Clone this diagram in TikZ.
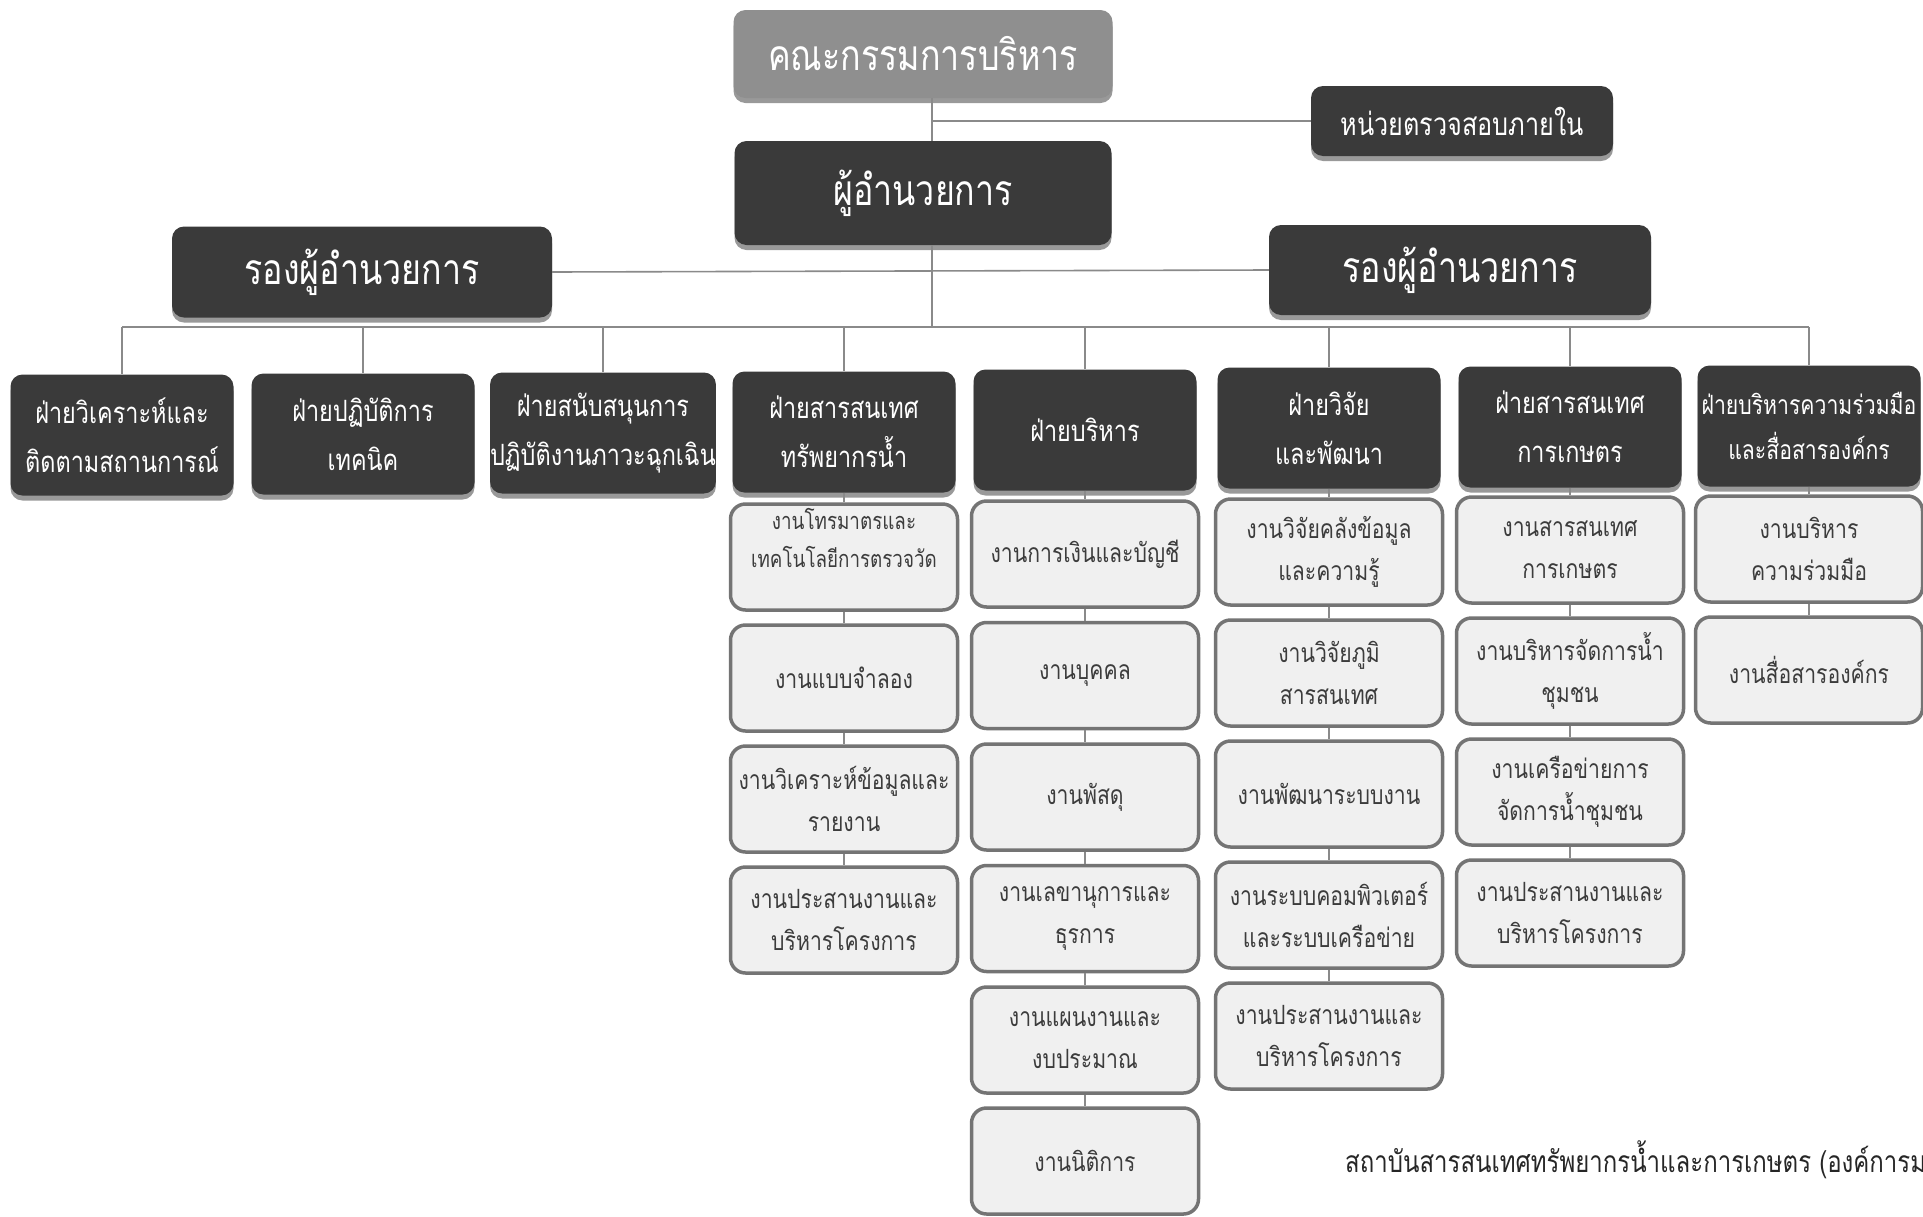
\documentclass[tikz,border=0pt]{standalone}
\usepackage{fontspec}
\setmainfont[Script=Thai,FakeStretch=0.8]{Loma}
\usetikzlibrary{shadows}
\definecolor{cDark}{HTML}{3A3A3A}
\definecolor{cBoard}{HTML}{8F8F8F}
\definecolor{cSubFill}{HTML}{F0F0F0}
\definecolor{cSubLine}{HTML}{747474}
\definecolor{cConn}{HTML}{8A8A8A}
\definecolor{cSubText}{HTML}{3C3C3C}
\newcommand\szTop{\fontsize{42.5}{50}\selectfont}
\newcommand\szAudit{\fontsize{31.5}{40}\selectfont}
\newcommand\szDiv{\fontsize{29.3}{49}\selectfont}
\newcommand\szDivS{\fontsize{26.5}{45}\selectfont}
\newcommand\szSub{\fontsize{26.5}{42}\selectfont}
\newcommand\szSubS{\fontsize{23.5}{38}\selectfont}
\newcommand\szFoot{\fontsize{30}{36}\selectfont}
\begin{document}
\begin{tikzpicture}[x=1pt,y=-1pt,
  shadowed/.style={drop shadow={shadow xshift=0pt,shadow yshift=-5pt,fill=black!40,opacity=1}},
  topbox/.style={rectangle,rounded corners=12pt,align=center,inner sep=0pt,shadowed,text=white},
  darkbox/.style={topbox,fill=cDark},
  boardbox/.style={topbox,fill=cBoard},
  divbox/.style={darkbox,minimum width=223pt,minimum height=121pt,font=\szDiv},
  subbox/.style={rectangle,rounded corners=15pt,align=center,inner sep=0pt,fill=cSubFill,draw=cSubLine,line width=3.5pt,minimum width=227pt,minimum height=106pt,font=\szSub,text=cSubText},
  conn/.style={draw=cConn,line width=1.6pt}
]
\fill[white] (0,0) rectangle (1923,1216);
\useasboundingbox (0,0) rectangle (1923,1216);

% top level
\node[boardbox,minimum width=379pt,minimum height=88pt,font=\szTop] (board) at (923,54) {คณะกรรมการบริหาร};
\node[darkbox,minimum width=302pt,minimum height=70pt,font=\szAudit] (audit) at (1462,121) {หน่วยตรวจสอบภายใน};
\node[darkbox,minimum width=377pt,minimum height=104pt,font=\szTop] (dir) at (923,193) {ผู้อำนวยการ};
\node[darkbox,minimum width=380pt,minimum height=91pt,font=\szTop] (ldep) at (362,272) {รองผู้อำนวยการ};
\node[darkbox,minimum width=382pt,minimum height=90pt,font=\szTop] (rdep) at (1460,270) {รองผู้อำนวยการ};

\coordinate (spineA) at ([xshift=9pt]board.south);
\coordinate (spineB) at ([xshift=9pt]dir.north);
\coordinate (spineC) at ([xshift=9pt]dir.south);
\coordinate (busL) at (122,327);
\coordinate (busR) at (1809,327);

% divisions
\node[divbox] (d1) at (122,435) {ฝ่ายวิเคราะห์และ\\ติดตามสถานการณ์};
\node[divbox] (d2) at (363,434) {ฝ่ายปฏิบัติการ\\เทคนิค};
\node[divbox] (d3) at (603,433) {ฝ่ายสนับสนุนการ\\ปฏิบัติงานภาวะฉุกเฉิน};
\node[divbox] (d4) at (844,432) {ฝ่ายสารสนเทศ\\ทรัพยากรน้ำ};
\node[divbox] (d5) at (1085,430) {ฝ่ายบริหาร};
\node[divbox] (d6) at (1329,428) {ฝ่ายวิจัย\\และพัฒนา};
\node[divbox] (d7) at (1570,427) {ฝ่ายสารสนเทศ\\การเกษตร};
\node[divbox,font=\szDivS] (d8) at (1809,426) {ฝ่ายบริหารความร่วมมือ\\และสื่อสารองค์กร};

% column 4
\node[subbox,font=\szSubS] (s41) at (844,557) {งานโทรมาตรและ\\เทคโนโลยีการตรวจวัด\\\phantom{ก}};
\node[subbox] (s42) at (844,678) {งานแบบจำลอง};
\node[subbox] (s43) at (844,799) {งานวิเคราะห์ข้อมูลและ\\รายงาน};
\node[subbox] (s44) at (844,920) {งานประสานงานและ\\บริหารโครงการ};
% column 5
\node[subbox] (s51) at (1085,554) {งานการเงินและบัญชี};
\node[subbox] (s52) at (1085,675.5) {งานบุคคล};
\node[subbox] (s53) at (1085,797) {งานพัสดุ};
\node[subbox] (s54) at (1085,918.5) {งานเลขานุการและ\\ธุรการ};
\node[subbox] (s55) at (1085,1040) {งานแผนงานและ\\งบประมาณ};
\node[subbox] (s56) at (1085,1161) {งานนิติการ};
% column 6
\node[subbox] (s61) at (1329,552) {งานวิจัยคลังข้อมูล\\และความรู้};
\node[subbox] (s62) at (1329,673) {งานวิจัยภูมิ\\สารสนเทศ};
\node[subbox] (s63) at (1329,794) {งานพัฒนาระบบงาน};
\node[subbox] (s64) at (1329,915) {งานระบบคอมพิวเตอร์\\และระบบเครือข่าย};
\node[subbox] (s65) at (1329,1036) {งานประสานงานและ\\บริหารโครงการ};
% column 7
\node[subbox] (s71) at (1570,550) {งานสารสนเทศ\\การเกษตร};
\node[subbox] (s72) at (1570,671) {งานบริหารจัดการน้ำ\\ชุมชน};
\node[subbox] (s73) at (1570,792) {งานเครือข่ายการ\\จัดการน้ำชุมชน};
\node[subbox] (s74) at (1570,913) {งานประสานงานและ\\บริหารโครงการ};
% column 8
\node[subbox] (s81) at (1809,549) {งานบริหาร\\ความร่วมมือ};
\node[subbox] (s82) at (1809,670) {งานสื่อสารองค์กร};

% footer
\node[anchor=west,font=\szFoot,text=black!85,inner sep=0pt] (foot) at (1345,1160) {สถาบันสารสนเทศทรัพยากรน้ำและการเกษตร (องค์การม};

% connectors
\draw[conn] (spineA) -- (spineB);
\draw[conn] (spineA |- audit.west) -- (audit.west);
\draw[conn] (ldep.east) -- (rdep.west);
\draw[conn] (spineC) -- (spineC |- busL);
\draw[conn] (busL) -- (busR);
\foreach \d in {d1,d2,d3,d4,d5,d6,d7,d8}{
  \draw[conn] (\d.north |- busL) -- (\d.north);
}
\draw[conn] (d4.south) -- (s41.north) (s41.south) -- (s42.north) (s42.south) -- (s43.north) (s43.south) -- (s44.north);
\draw[conn] (d5.south) -- (s51.north) (s51.south) -- (s52.north) (s52.south) -- (s53.north) (s53.south) -- (s54.north) (s54.south) -- (s55.north) (s55.south) -- (s56.north);
\draw[conn] (d6.south) -- (s61.north) (s61.south) -- (s62.north) (s62.south) -- (s63.north) (s63.south) -- (s64.north) (s64.south) -- (s65.north);
\draw[conn] (d7.south) -- (s71.north) (s71.south) -- (s72.north) (s72.south) -- (s73.north) (s73.south) -- (s74.north);
\draw[conn] (d8.south) -- (s81.north) (s81.south) -- (s82.north);
\end{tikzpicture}
\end{document}
